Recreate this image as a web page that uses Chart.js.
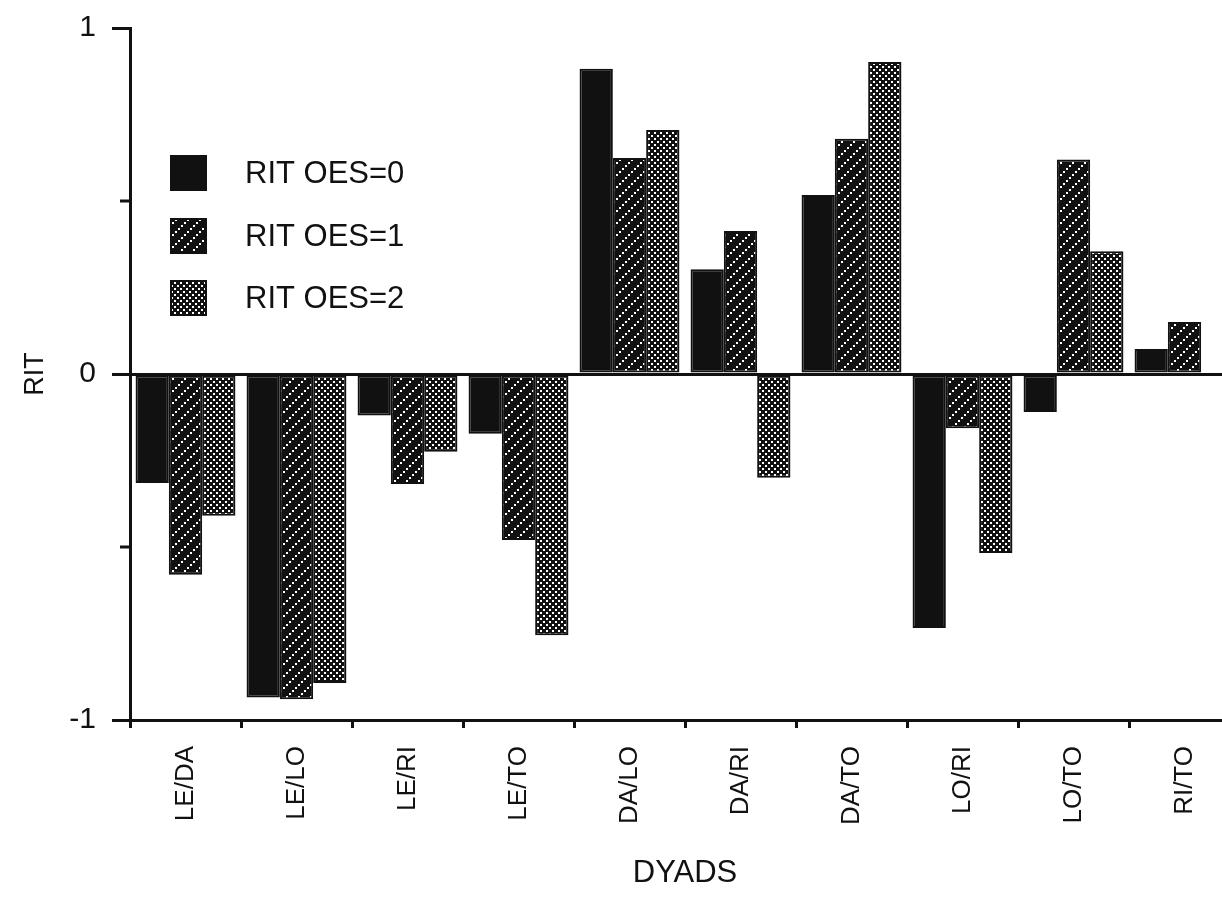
<!DOCTYPE html>
<html>
<head>
<meta charset="utf-8">
<script src="https://cdn.jsdelivr.net/npm/chart.js@4"></script>
<style>
  html, body { margin: 0; padding: 0; background: #fff; overflow: hidden; }
</style>
</head>
<body>
<canvas id="chart-1" width="1242" height="919"></canvas>
<script>
const dyads = ["LE/DA", "LE/LO", "LE/RI", "LE/TO", "DA/LO", "DA/RI", "DA/TO", "LO/RI", "LO/TO", "RI/TO"];
const seriesNames = ["RIT OES=0", "RIT OES=1", "RIT OES=2"];
const ritOes0 = [-0.315, -0.935, -0.12, -0.173, 0.882, 0.303, 0.517, -0.734, -0.11, 0.072];
const ritOes1 = [-0.58, -0.94, -0.318, -0.48, 0.624, 0.413, 0.68, -0.157, 0.62, 0.15];
const ritOes2 = [-0.41, -0.893, -0.225, -0.755, 0.705, -0.30, 0.902, -0.517, 0.355, null];
const yTicks = [-1, -0.5, 0, 0.5, 1];

const FONT = "'Liberation Sans', Arial, Helvetica, sans-serif";

// fill patterns: solid, white dotted diagonal hatch, white dot screen
function makeHatch() {
  const c = document.createElement("canvas");
  c.width = 12; c.height = 12;
  const g = c.getContext("2d");
  g.fillStyle = "#111"; g.fillRect(0, 0, 12, 12);
  g.fillStyle = "#fff";
  g.fillRect(1, 9, 2, 2);
  g.fillRect(4, 6, 2, 2);
  g.fillRect(7, 3, 2, 2);
  g.fillRect(10, 0, 2, 2);
  return g.createPattern(c, "repeat");
}
function makeDots() {
  const c = document.createElement("canvas");
  c.width = 6; c.height = 6;
  const g = c.getContext("2d");
  g.fillStyle = "#111"; g.fillRect(0, 0, 6, 6);
  g.fillStyle = "#fff";
  g.fillRect(0, 0, 2, 2);
  g.fillRect(3, 3, 2, 2);
  return g.createPattern(c, "repeat");
}
const fills = ["#111", makeHatch(), makeDots()];

// legend inside the plot + short half-unit ticks on the y axis
const extras = {
  id: "extras",
  afterDraw(chart) {
    const ctx = chart.ctx;
    const y = chart.scales.y;
    ctx.save();
    ctx.strokeStyle = "#111";
    ctx.lineWidth = 3;
    [-0.5, 0.5].forEach(v => {
      const py = Math.round(y.getPixelForValue(v));
      ctx.beginPath();
      ctx.moveTo(y.right - 10, py);
      ctx.lineTo(y.right, py);
      ctx.stroke();
    });
    const boxTops = [155, 218, 280];
    ctx.font = "31px " + FONT;
    ctx.textBaseline = "middle";
    seriesNames.forEach((name, i) => {
      ctx.fillStyle = fills[i];
      ctx.fillRect(170, boxTops[i], 37, 36);
      ctx.lineWidth = 2;
      ctx.strokeRect(171, boxTops[i] + 1, 35, 34);
      ctx.fillStyle = "#111";
      ctx.fillText(name, 245, boxTops[i] + 19);
    });
    ctx.restore();
  }
};

const ctx1 = document.getElementById("chart-1").getContext("2d");
const myChart = new Chart(ctx1, {
  type: "bar",
  data: {
    labels: dyads,
    datasets: [ritOes0, ritOes1, ritOes2].map((d, i) => ({
      label: seriesNames[i],
      data: d,
      backgroundColor: fills[i],
      borderColor: "#111",
      borderWidth: 2,
      borderSkipped: false,
      categoryPercentage: 0.9,
      barPercentage: 1.0
    }))
  },
  options: {
    responsive: false,
    animation: false,
    devicePixelRatio: 1,
    layout: { padding: { top: 10, right: 2, left: 0, bottom: 0 } },
    plugins: { legend: { display: false }, tooltip: { enabled: false } },
    scales: {
      x: {
        offset: true,
        afterFit(scale) { scale.height = 199; },
        grid: {
          offset: true,
          drawOnChartArea: false,
          tickLength: 8,
          tickColor: "#111",
          tickWidth: 3
        },
        border: { color: "#111", width: 3 },
        ticks: {
          color: "#111",
          font: { family: FONT, size: 26 },
          minRotation: 90,
          maxRotation: 90,
          padding: 18,
          autoSkip: false
        },
        title: {
          display: true,
          text: "DYADS",
          color: "#111",
          font: { family: FONT, size: 31 },
          padding: { top: 0, bottom: 27 }
        }
      },
      y: {
        min: -1,
        max: 1,
        afterFit(scale) {
          scale.width = 130;
          scale.paddingTop = 28;
        },
        afterBuildTicks(scale) { scale.ticks = yTicks.map(v => ({ value: v })); },
        grid: {
          drawOnChartArea: true,
          color: c => (c.tick && c.tick.value === 0 ? "#111" : "rgba(0,0,0,0)"),
          lineWidth: 3,
          tickLength: 18,
          tickColor: c => (c.tick && Number.isInteger(c.tick.value) ? "#111" : "rgba(0,0,0,0)"),
          tickWidth: 3
        },
        border: { color: "#111", width: 3 },
        ticks: {
          color: "#111",
          font: { family: FONT, size: 30 },
          padding: 16,
          callback: v => (Number.isInteger(v) ? String(v) : "")
        },
        title: {
          display: true,
          text: "RIT",
          color: "#111",
          font: { family: FONT, size: 27 },
          padding: { top: 19, bottom: 0 }
        }
      }
    }
  },
  plugins: [extras]
});
</script>
</body>
</html>
